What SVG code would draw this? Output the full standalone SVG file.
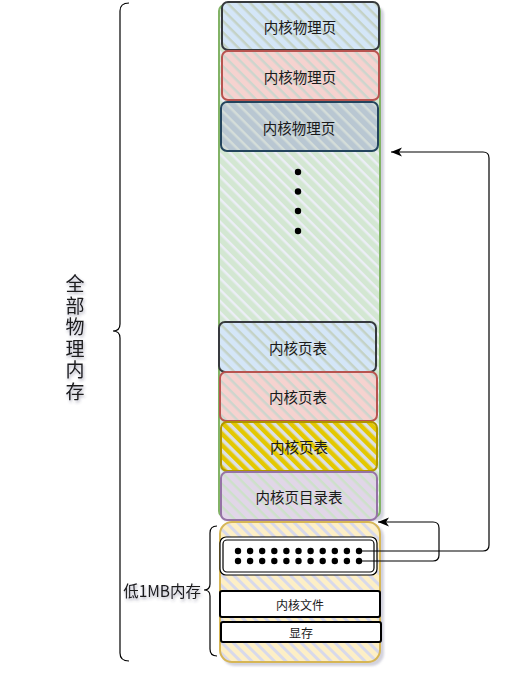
<svg xmlns="http://www.w3.org/2000/svg" width="517" height="674" viewBox="0 0 517 674">
<defs>
<pattern id="hGreen" width="8" height="8" patternUnits="userSpaceOnUse" patternTransform="rotate(45)"><rect width="8" height="8" fill="#d3e7d2"/><rect width="8" height="2.5" fill="#eceef6"/></pattern>
<pattern id="hBlue" width="8" height="8" patternUnits="userSpaceOnUse" patternTransform="rotate(45)"><rect width="8" height="8" fill="#d4e6f8"/><rect width="8" height="2.5" fill="#c4d2c6"/></pattern>
<pattern id="hRed" width="8" height="8" patternUnits="userSpaceOnUse" patternTransform="rotate(45)"><rect width="8" height="8" fill="#f6d2cf"/><rect width="8" height="2.5" fill="#cdd5cd"/></pattern>
<pattern id="hGrey" width="8" height="8" patternUnits="userSpaceOnUse" patternTransform="rotate(45)"><rect width="8" height="8" fill="#b9c7d2"/><rect width="8" height="2.5" fill="#d4ddd9"/></pattern>
<pattern id="hYellow" width="8" height="8" patternUnits="userSpaceOnUse" patternTransform="rotate(45)"><rect width="8" height="8" fill="#e3c800"/><rect width="8" height="3.5" fill="#dde0e6"/></pattern>
<pattern id="hPurple" width="8" height="8" patternUnits="userSpaceOnUse" patternTransform="rotate(45)"><rect width="8" height="8" fill="#e1d6e8"/><rect width="8" height="2.5" fill="#cde0ca"/></pattern>
<pattern id="hOrange" width="8" height="8" patternUnits="userSpaceOnUse" patternTransform="rotate(45)"><rect width="8" height="8" fill="#fdefc6"/><rect width="8" height="3" fill="#d8d9ea"/></pattern>
<filter id="shadow" x="-10%" y="-10%" width="130%" height="130%"><feDropShadow dx="3" dy="3" stdDeviation="1.2" flood-color="#8080a0" flood-opacity="0.35"/></filter>
<filter id="tshadow" x="-30%" y="-30%" width="160%" height="160%"><feDropShadow dx="1" dy="2" stdDeviation="1.5" flood-color="#404060" flood-opacity="0.45"/></filter>
<marker id="arrow" viewBox="0 0 12 12" refX="11" refY="6" markerWidth="12" markerHeight="12" markerUnits="userSpaceOnUse" orient="auto"><path d="M0,1.5 L11,6 L0,10.5 L3,6 Z" fill="#000"/></marker>
</defs>
<style>
.t{font-family:"Noto Sans CJK SC","Liberation Sans",sans-serif;font-size:14.5px;fill:#1a1a1a;text-anchor:middle;dominant-baseline:central}
.s{font-size:12px}
.v{font-size:19px;writing-mode:vertical-rl;letter-spacing:2.5px}
.box{stroke-width:2}
.con{fill:none;stroke:#000;stroke-width:1.2}
.brace{fill:none;stroke:#000;stroke-width:1.2}
</style>
<g id="memory" filter="url(#shadow)">
<rect x="219" y="5" width="161" height="512" rx="6" fill="url(#hGreen)" stroke="#82b366" stroke-width="2"/>
</g>
<g id="page1"><rect class="box" x="222" y="2" width="157" height="48" rx="6" fill="url(#hBlue)" stroke="#36393d"/><text class="t" x="300" y="26">内核物理页</text></g>
<g id="page2"><rect class="box" x="222" y="51" width="157" height="49" rx="6" fill="url(#hRed)" stroke="#b85450"/><text class="t" x="300" y="76">内核物理页</text></g>
<g id="page3"><rect class="box" x="221" y="102" width="157" height="49" rx="6" fill="url(#hGrey)" stroke="#23445d"/><text class="t" x="299" y="127">内核物理页</text></g>
<g id="vdots" fill="#000"><circle cx="298" cy="172" r="3.2"/><circle cx="298" cy="191.5" r="3.2"/><circle cx="298" cy="211" r="3.2"/><circle cx="298" cy="231" r="3.2"/></g>
<g id="pt1"><rect class="box" x="219" y="322" width="157" height="50" rx="6" fill="url(#hBlue)" stroke="#36393d"/><text class="t" x="298" y="347">内核页表</text></g>
<g id="pt2"><rect class="box" x="220" y="372" width="157" height="49" rx="6" fill="url(#hRed)" stroke="#b85450"/><text class="t" x="298" y="396">内核页表</text></g>
<g id="pt3"><rect class="box" x="221" y="422" width="156" height="49" rx="6" fill="url(#hYellow)" stroke="#b09500"/><text class="t" x="299" y="446">内核页表</text></g>
<g id="pdt"><rect class="box" x="221" y="472" width="156" height="48" rx="6" fill="url(#hPurple)" stroke="#9673a6"/><text class="t" x="299" y="496">内核页目录表</text></g>
<g id="low1mb" filter="url(#shadow)">
<rect x="220" y="522" width="160" height="140" rx="12" fill="url(#hOrange)" stroke="#d6b656" stroke-width="2"/>
</g>
<g id="dotsbox">
<rect x="220" y="537" width="157" height="38" rx="6" fill="#fff" stroke="#000" stroke-width="1.2"/>
<rect x="223" y="540" width="151" height="32" rx="4" fill="none" stroke="#000" stroke-width="1.2"/>
<g fill="#000">
<circle cx="238" cy="551" r="3.2"/><circle cx="250.1" cy="551" r="3.2"/><circle cx="262.2" cy="551" r="3.2"/><circle cx="274.3" cy="551" r="3.2"/><circle cx="286.4" cy="551" r="3.2"/><circle cx="298.5" cy="551" r="3.2"/><circle cx="310.6" cy="551" r="3.2"/><circle cx="322.7" cy="551" r="3.2"/><circle cx="334.8" cy="551" r="3.2"/><circle cx="346.9" cy="551" r="3.2"/><circle cx="359" cy="551" r="3.2"/>
<circle cx="238" cy="561" r="3.2"/><circle cx="250.1" cy="561" r="3.2"/><circle cx="262.2" cy="561" r="3.2"/><circle cx="274.3" cy="561" r="3.2"/><circle cx="286.4" cy="561" r="3.2"/><circle cx="298.5" cy="561" r="3.2"/><circle cx="310.6" cy="561" r="3.2"/><circle cx="322.7" cy="561" r="3.2"/><circle cx="334.8" cy="561" r="3.2"/><circle cx="346.9" cy="561" r="3.2"/><circle cx="359" cy="561" r="3.2"/>
</g>
</g>
<g id="kfile"><rect x="220" y="591" width="160" height="26" rx="2" fill="#fff" stroke="#000" stroke-width="2"/><text class="t s" x="300" y="604">内核文件</text></g>
<g id="vram"><rect x="221" y="622" width="160" height="20" rx="2" fill="#fff" stroke="#000" stroke-width="2"/><text class="t s" x="301" y="632">显存</text></g>
<g id="connectors">
<path class="con" d="M360 551 H483 Q489 551 489 545 V158 Q489 152 483 152 H391" marker-end="url(#arrow)"/>
<path class="con" d="M360 561 H433 Q439 561 439 555 V528 Q439 522 433 522 H378" marker-end="url(#arrow)"/>
</g>
<g id="brace-all">
<path class="brace" d="M129 3 Q120 3 120 11 V324 Q120 331 113 331 Q120 331 120 338 V653 Q120 661 129 661"/>
<text class="t v" x="75" y="339" filter="url(#tshadow)">全部物理内存</text>
</g>
<g id="brace-low">
<path class="brace" d="M217 526 Q210 526 210 533 V584 Q210 590 204 590 Q210 590 210 596 V649 Q210 656 217 656"/>
<text class="t" style="text-anchor:end;font-size:15.5px" x="201" y="590" filter="url(#tshadow)">低1MB内存</text>
</g>
</svg>
